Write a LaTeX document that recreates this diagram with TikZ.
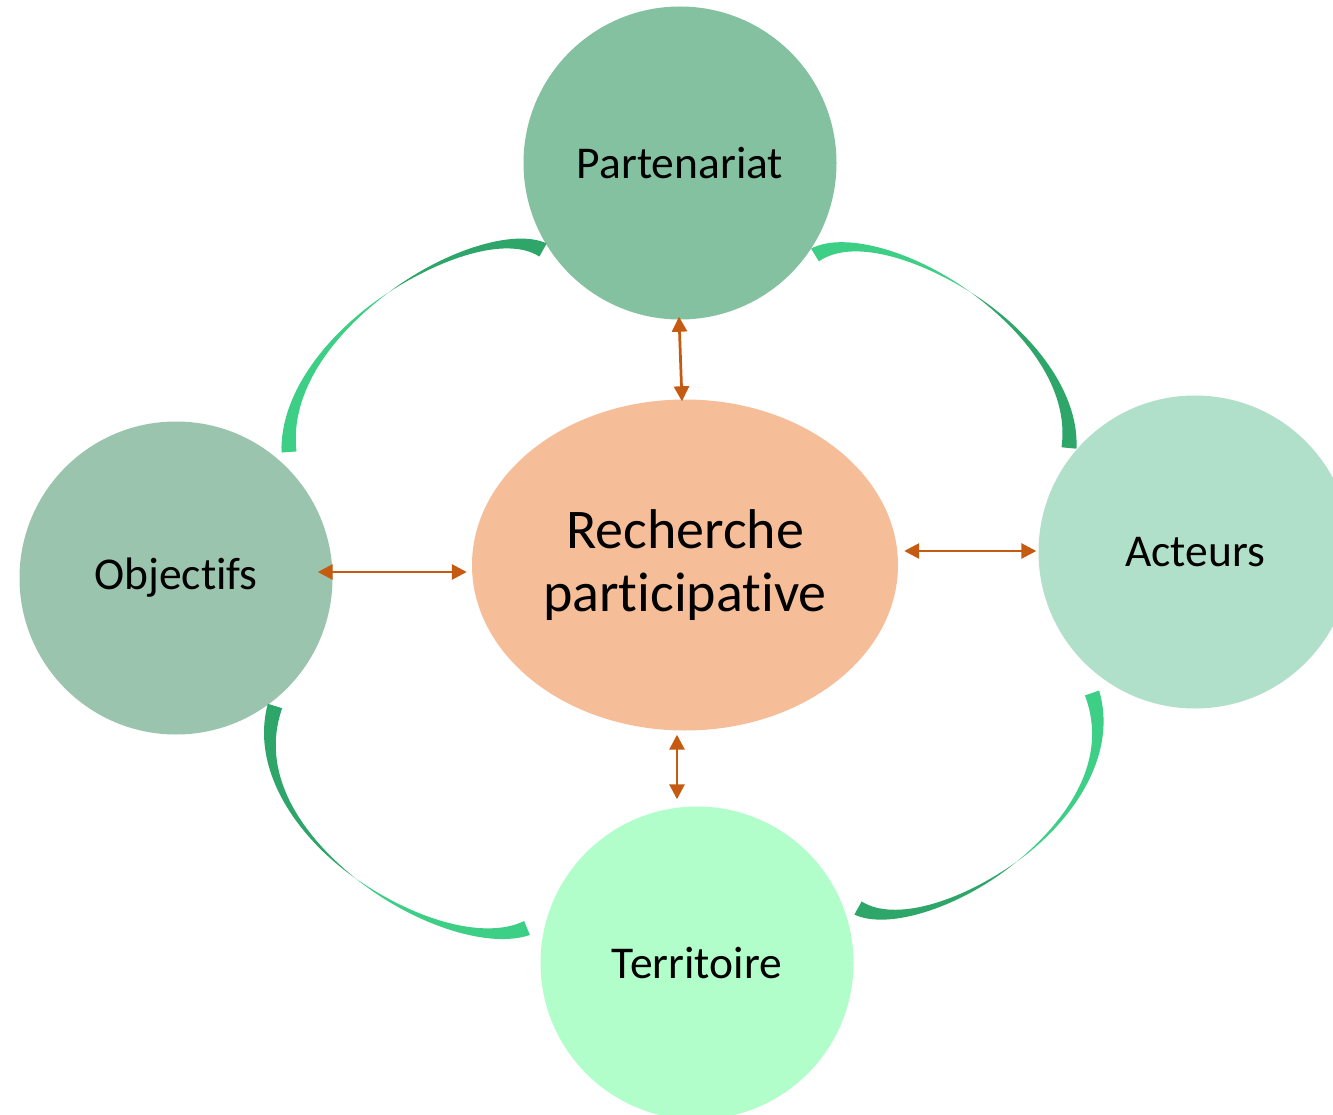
\documentclass[tikz,border=0pt]{standalone}
\usepackage{fontspec}
\setmainfont{Carlito}[Ligatures={NoCommon}]
\usetikzlibrary{shapes.geometric,arrows.meta,calc}
\definecolor{cPart}{RGB}{132,193,160}
\definecolor{cObj}{RGB}{155,196,174}
\definecolor{cAct}{RGB}{177,224,202}
\definecolor{cTerr}{RGB}{178,254,202}
\definecolor{cRP}{RGB}{245,190,152}
\definecolor{cArr}{RGB}{197,90,17}
\definecolor{gDark}{RGB}{46,166,106}
\definecolor{gLight}{RGB}{61,207,133}
\newcommand\rw{7.5pt}
\newcommand\rwb{5pt}
\newcommand\rwc{2.5pt}
% ribbon: start, ctrl1, ctrl2, end, colour of start half, colour of end half
\newcommand\ribbon[6]{%
  \coordinate (rS) at (#1); \coordinate (rC) at (#2);
  \coordinate (rD) at (#3); \coordinate (rE) at (#4);
  \coordinate (rQ1) at ($(rS)!0.5!(rC)$);
  \coordinate (rCD) at ($(rC)!0.5!(rD)$);
  \coordinate (rR1) at ($(rE)!0.5!(rD)$);
  \coordinate (rQ2) at ($(rQ1)!0.5!(rCD)$);
  \coordinate (rR2) at ($(rR1)!0.5!(rCD)$);
  \coordinate (rM) at ($(rQ2)!0.5!(rR2)$);
  \fill[#5] ($(rS)!\rw!90:(rQ1)$) .. controls ($(rQ1)!\rwb!-90:(rS)$) and ($(rQ2)!\rwc!90:(rM)$) .. (rM)
     .. controls ($(rQ2)!\rwc!-90:(rM)$) and ($(rQ1)!\rwb!90:(rS)$) .. ($(rS)!\rw!-90:(rQ1)$) -- cycle;
  \fill[#6] ($(rE)!\rw!90:(rR1)$) .. controls ($(rR1)!\rwb!-90:(rE)$) and ($(rR2)!\rwc!90:(rM)$) .. (rM)
     .. controls ($(rR2)!\rwc!-90:(rM)$) and ($(rR1)!\rwb!90:(rE)$) .. ($(rE)!\rw!-90:(rR1)$) -- cycle;
}
\begin{document}
\begin{tikzpicture}[x=1pt,y=-1pt,
  bubble/.style={circle,minimum size=313pt,inner sep=0pt,text=black,
    font=\fontsize{45.5}{54}\selectfont},
  arr/.style={draw=cArr,line width=2.75pt,{Triangle[length=15pt,width=15pt]}-{Triangle[length=15pt,width=15pt]}}]
\path[use as bounding box] (0,0) rectangle (1333,1115);
\clip (0,0) rectangle (1333,1115);
\fill[white] (0,0) rectangle (1333,1115);

\node[bubble,fill=cPart] (part) at (680,163) {Partenariat};
\node[bubble,fill=cObj] (obj) at (176,578) {Objectifs};
\node[bubble,fill=cAct] (act) at (1195,552) {Acteurs};
\node[bubble,fill=cTerr] (terr) at (697,963) {Territoire};
\node[ellipse,fill=cRP,minimum width=426pt,minimum height=331pt,inner sep=0pt,
  align=center,font=\fontsize{56}{63}\selectfont] (rp) at (685,565) {Recherche\\participative};

\draw[arr] ([xshift=-1pt,yshift=3pt]part.south) -- ([xshift=-3pt,yshift=-2pt]rp.north);
\draw[arr] ([xshift=-15pt,yshift=6pt]obj.east) -- ([xshift=-5pt,yshift=-7pt]rp.west);
\draw[arr] ([xshift=6pt,yshift=14pt]rp.east) -- ([xshift=-2pt,yshift=1pt]act.west);
\draw[arr] ([xshift=-8pt,yshift=-4pt]rp.south) -- ([xshift=-20pt,yshift=7pt]terr.north);

\ribbon{289,452}{280,330}{480,215}{543,250}{gLight}{gDark}
\ribbon{815,255}{880,215}{1080,330}{1069,448}{gLight}{gDark}
\ribbon{1092,693}{1135,820}{925,945}{858,908}{gLight}{gDark}
\ribbon{527,928}{445,962}{235,835}{275,706}{gLight}{gDark}
\end{tikzpicture}
\end{document}
